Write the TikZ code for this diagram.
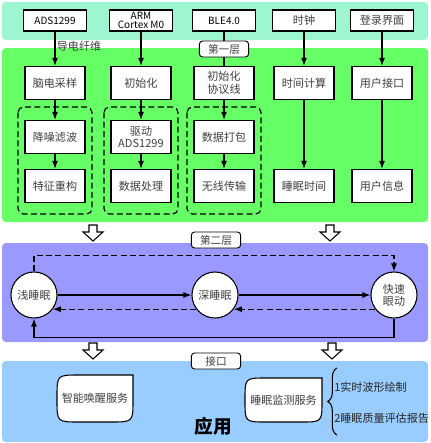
\documentclass[tikz,border=0pt]{standalone}
\usepackage{fontspec}
\setmainfont{Noto Sans CJK SC}
\usetikzlibrary{arrows.meta,decorations.pathreplacing}
\definecolor{topband}{RGB}{158,246,208}
\definecolor{layerone}{RGB}{102,255,102}
\definecolor{layertwo}{RGB}{153,153,255}
\definecolor{appband}{RGB}{153,204,255}
\newcommand{\boxfont}{\fontsize{8.3}{9.5}\selectfont}

\begin{document}
\begin{tikzpicture}[x=0.75pt,y=-0.75pt,
  band/.style={rounded corners=3pt},
  longdash/.style={dash pattern=on 4.5pt off 2.5pt},
  hw/.style={draw, line width=0.9pt, fill=white, minimum width=47pt, minimum height=15.75pt,
    inner sep=0pt, align=center, font=\fontsize{7.5}{6.8}\selectfont},
  task/.style={draw, line width=0.9pt, fill=white, minimum width=45pt, minimum height=24.75pt,
    inner sep=0pt, align=center, text=black!75, font=\boxfont},
  group/.style={draw, line width=0.9pt, longdash, rounded corners=4pt},
  tag/.style={draw, line width=0.7pt, fill=white, rounded corners=2.5pt, minimum width=37pt,
    minimum height=12pt, inner sep=0pt, text=black!75, font=\fontsize{8}{8}\selectfont},
  state/.style={draw, circle, line width=0.8pt, fill=white, minimum size=34.5pt, inner sep=0pt,
    align=center, text=black!75, font=\fontsize{8.3}{9}\selectfont},
  conn/.style={line width=0.9pt, -{Latex[length=6pt,width=4.5pt]}},
  hollow/.pic={\draw[fill=white, line width=0.8pt] (-4,0) -- (4,0) -- (4,7) -- (10,7) -- (0,16)
    -- (-10,7) -- (-4,7) -- cycle;}
]
\useasboundingbox (0,0) rectangle (431,443);

% Bands
\fill[topband, band] (2,2) rectangle (428,40);
\fill[layerone, band] (2,48) rectangle (428,222);
\fill[layertwo, band] (2,243) rectangle (428,342);
\fill[appband, band] (2,361) rectangle (428,442);

% Hardware row
\node[hw] (ads) at (55,20.5) {ADS1299};
\node[hw] (arm) at (141,20.5) {ARM\\Cortex M0};
\node[hw] (ble) at (224,20.5) {BLE4.0};
\node[hw, text=black!75, font=\boxfont] (clock) at (304,20.5) {时钟};
\node[hw, text=black!75, font=\boxfont] (login) at (382,20.5) {登录界面};

% Layer one: dashed groups
\draw[group] (18,107) rectangle (92,214);
\draw[group] (104,107) rectangle (178,214);
\draw[group] (187,107) rectangle (261,214);

% Layer one: tasks
\node[task] (sample) at (55,83) {脑电采样};
\node[task] (denoise) at (55,137) {降噪滤波};
\node[task] (feature) at (55,186) {特征重构};
\node[task] (init) at (141,83) {初始化};
\node[task] (driver) at (141,137) {驱动\\ADS1299};
\node[task] (process) at (141,186) {数据处理};
\node[task] (proto) at (224,83) {初始化\\协议线};
\node[task] (pack) at (224,137) {数据打包};
\node[task] (radio) at (224,186) {无线传输};
\node[task] (timecalc) at (304,83) {时间计算};
\node[task] (sleeptime) at (304,186) {睡眠时间};
\node[task] (ui) at (382,83) {用户接口};
\node[task] (userinfo) at (382,186) {用户信息};

% Connectors into layer one
\draw[conn] (ads) -- (sample);
\node[text=black!75, font=\boxfont] (fiber) at (79,46) {导电纤维};
\draw[conn] (arm) -- (init);
\draw[line width=0.9pt] (ble) -- (proto);
\draw[conn] (clock) -- (timecalc);
\draw[conn] (login) -- (ui);
\node[tag] (layer1) at (224,49) {第一层};

\draw[conn] (sample) -- (denoise);
\draw[conn] (denoise) -- (feature);
\draw[conn] (init) -- (driver);
\draw[conn] (driver) -- (process);
\draw[conn] (proto) -- (pack);
\draw[conn] (pack) -- (radio);
\draw[conn] (timecalc) -- (sleeptime);
\draw[conn] (ui) -- (userinfo);

% Between layers
\pic at (93,225) {hollow};
\pic at (330,225) {hollow};
\node[tag] (layer2) at (216,240) {第二层};
\pic at (93,343) {hollow};
\pic at (332,343) {hollow};
\node[tag] (iface) at (216,361) {接口};

% Layer two: sleep states
\node[state] (light) at (34,295) {浅睡眠};
\node[state] (deep) at (215,295) {深睡眠};
\node[state] (rem) at (394,295) {快速\\眼动};

\draw[conn] (light) -- (deep);
\draw[conn] (deep) -- (rem);
\draw[conn, longdash] (deep.217) -- (light.323);
\draw[conn, longdash] (rem.217) -- (deep.323);
\draw[conn, longdash] (light.north) -- ++(0,-16) -| (rem.north);
\draw[conn] (rem.south) -- ++(0,19) -| (light.south);

% Application layer
\draw[fill=white, line width=0.8pt] (133,375) -- (133,400) .. controls (133,422) .. (111,422)
  -- (79,422) .. controls (57,422) .. (57,400) -- (57,397) .. controls (57,375) .. (79,375) -- cycle;
\node[text=black!75, font=\boxfont] (wake) at (95,398) {智能唤醒服务};
\draw[fill=white, line width=0.8pt] (322,378) -- (322,401) .. controls (322,422) .. (301,422)
  -- (266,422) .. controls (245,422) .. (245,401) -- (245,399) .. controls (245,378) .. (266,378) -- cycle;
\node[text=black!75, font=\boxfont] (monitor) at (283.5,400) {睡眠监测服务};

\coordinate (bracelow) at (337,435);
\coordinate (bracehigh) at (337,368);
\draw[line width=0.8pt, decorate, decoration={brace, amplitude=7pt}] (bracelow) -- (bracehigh);
\node[anchor=west, inner sep=0pt, text=black!85, font=\boxfont] (wave) at (334,387) {1实时波形绘制};
\node[anchor=west, inner sep=0pt, text=black!85, font=\boxfont] (report) at (334,418) {2睡眠质量评估报告};

\node[font=\fontsize{14}{14}\selectfont\bfseries] (app) at (213,426) {应用};
\end{tikzpicture}
\end{document}
